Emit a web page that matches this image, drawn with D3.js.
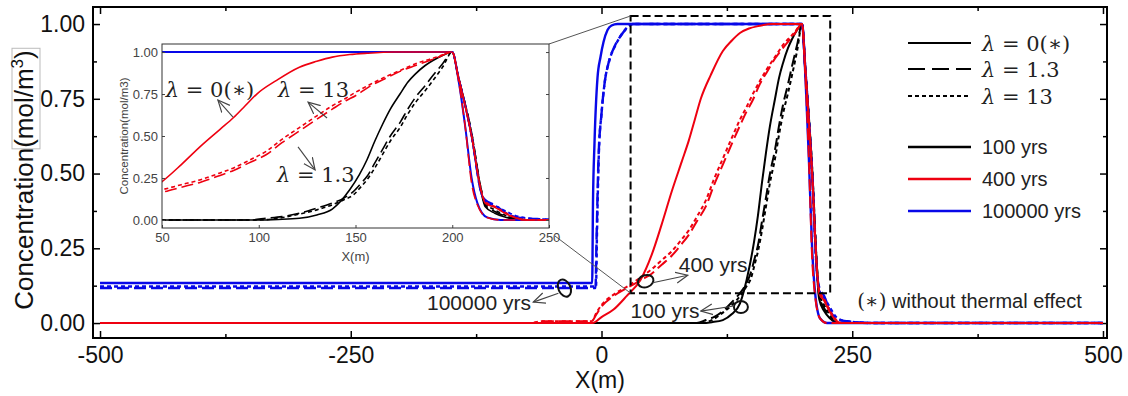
<!DOCTYPE html>
<html>
<head>
<meta charset="utf-8">
<script src="https://cdn.jsdelivr.net/npm/d3@7"></script>
<style>
  body { margin: 0; background: #fff; }
  svg { display: block; font-family: "Liberation Sans", Arial, sans-serif; }
</style>
</head>
<body>
<svg id="chart" width="1128" height="396"></svg>
<script>
'use strict';

// tick values
const xTicks = [-500, -250, 0, 250, 500],
    xMinor = [-375, -125, 125, 375],
    yTicks = [0, 0.25, 0.5, 0.75, 1],
    yMinor = [0.125, 0.375, 0.625, 0.875],
    insetXTicks = [50, 100, 150, 200, 250],
    insetYTicks = [0, 0.25, 0.5, 0.75, 1];

const lambdaLabels = ["0(\u2217)", "1.3", "13"];
const yearLabels = ["100 yrs", "400 yrs", "100000 yrs"];

// concentration profiles, [x (m), c (mol/m3)]
// 100 yrs
const black_l0 = [[-500,0],[100,0],[110,0.003],[121,0.01],[130,0.03],[138,0.065],[147,0.18],[152,0.27],[156,0.36],[160,0.47],[164,0.57],[168,0.66],[173,0.75],[177,0.82],[181,0.87],[186,0.92],[190,0.95],[195,0.98],[200,1],[203,0.86],[210,0.5],[215,0.16],[217,0.08],[222,0.04],[228,0.015],[235,0],[500,0]];
const black_l13 = [[-500,0],[95,0],[104,0.01],[112,0.02],[121,0.04],[130,0.07],[138,0.1],[144,0.13],[149,0.17],[153,0.22],[156,0.26],[160,0.34],[164,0.42],[168,0.5],[173,0.58],[177,0.66],[181,0.73],[186,0.8],[190,0.86],[195,0.93],[200,1],[203,0.86],[210,0.52],[215,0.18],[217,0.09],[222,0.05],[228,0.02],[236,0],[500,0]];
const black_l130 = [[-500,0],[100,0],[110,0.01],[121,0.035],[130,0.06],[138,0.09],[144,0.12],[149,0.15],[153,0.2],[156,0.24],[160,0.31],[164,0.39],[168,0.47],[173,0.55],[177,0.63],[181,0.7],[186,0.77],[190,0.83],[195,0.91],[200,1],[203,0.86],[210,0.52],[215,0.18],[217,0.1],[222,0.06],[228,0.025],[237,0],[500,0]];
// 400 yrs
const red_l0 = [[-500,0],[-9,0],[0,0.02],[12,0.045],[25,0.09],[39,0.145],[50,0.228],[60,0.33],[70,0.44],[80,0.54],[87,0.61],[93,0.68],[99,0.75],[109,0.83],[121,0.91],[130,0.945],[138,0.97],[147,0.985],[156,0.993],[170,1],[200,1],[203,0.86],[210,0.5],[215,0.17],[217,0.1],[222,0.075],[228,0.035],[234,0.008],[240,0],[500,0]];
const red_l13 = [[-500,0],[-70,0],[-60,0.006],[-10,0.006],[-5,0.03],[0,0.055],[12,0.09],[27,0.12],[40,0.145],[50,0.165],[60,0.195],[70,0.225],[80,0.265],[87,0.295],[95,0.34],[104,0.39],[112,0.46],[121,0.53],[130,0.6],[138,0.66],[145,0.71],[150,0.74],[158,0.8],[165,0.84],[173,0.885],[181,0.92],[192,0.965],[200,1],[203.4,0.82],[206.7,0.556],[210,0.22],[213,0.09],[218,0.015],[225,0],[500,0]];
const red_l130 = [[-500,0],[-70,0],[-60,0.006],[-10,0.006],[-5,0.035],[0,0.06],[12,0.095],[27,0.125],[40,0.155],[50,0.18],[60,0.21],[70,0.24],[80,0.28],[87,0.31],[95,0.355],[104,0.41],[112,0.48],[121,0.55],[130,0.62],[138,0.68],[145,0.725],[150,0.76],[158,0.81],[165,0.85],[173,0.89],[181,0.93],[192,0.97],[200,1],[203,0.86],[210,0.5],[215,0.17],[217,0.11],[222,0.08],[228,0.04],[234,0.01],[240,0],[500,0]];
// 100000 yrs
const blue_l0 = [[-500,0.134],[-9.3,0.134],[-8.5,0.4],[-7,0.6],[-4,0.82],[-1,0.89],[2,0.94],[6,0.98],[10,0.995],[16,1],[200,1],[203.4,0.82],[206.7,0.556],[210,0.25],[213,0.1],[218,0.015],[225,0],[500,0]];
const blue_l13 = [[-500,0.117],[-6,0.117],[-5,0.27],[-3,0.55],[0,0.7],[3,0.8],[7,0.87],[13,0.925],[19,0.96],[25,0.985],[31,1],[200,1],[203,0.86],[210,0.5],[215,0.16],[217,0.12],[222,0.09],[228,0.04],[234,0.015],[245,0.006],[270,0],[500,0]];
const blue_l130 = [[-500,0.122],[-5.5,0.122],[-4.5,0.3],[-2.5,0.58],[0,0.7],[3,0.8],[8,0.88],[14,0.93],[20,0.965],[26,0.99],[32,1],[200,1],[203,0.86],[210,0.5],[215,0.16],[217,0.11],[222,0.085],[228,0.05],[234,0.02],[245,0.005],[275,0],[500,0]];

const colors = ["#000", "#ee0010", "#0808e8"];
const dashes = [null, "12,5", "4,3"];

// draw order: black, blue, red
const series = [
  { data: black_l0, c: 0, d: 0 }, { data: black_l13, c: 0, d: 1 }, { data: black_l130, c: 0, d: 2 },
  { data: blue_l0, c: 2, d: 0 }, { data: blue_l13, c: 2, d: 1 }, { data: blue_l130, c: 2, d: 2 },
  { data: red_l0, c: 1, d: 0 }, { data: red_l13, c: 1, d: 1 }, { data: red_l130, c: 1, d: 2 },
];

const svg = d3.select("#chart");
const defs = svg.append("defs");

defs.append("marker")
  .attr("id", "arrow")
  .attr("viewBox", "0 0 12 12")
  .attr("refX", 11).attr("refY", 6)
  .attr("markerWidth", 13).attr("markerHeight", 13)
  .attr("markerUnits", "userSpaceOnUse")
  .attr("orient", "auto")
  .append("path")
  .attr("d", "M0,1 L11,6 L0,11")
  .attr("fill", "none")
  .attr("stroke", "#444")
  .attr("stroke-width", 1.1);

// plain hyphen for negatives, like the original
const fmtInt = d => String(d);

// main scales
const x = d3.scaleLinear().domain([-507, 504]).range([93, 1107]);
const y = d3.scaleLinear().domain([-0.05, 1.057]).range([338, 7]);

function addAxis(g, axis) {
  g.call(axis);
  g.select(".domain").remove();
  g.selectAll(".tick line").attr("stroke", "#000").attr("stroke-width", 1.5);
  return g;
}

const main = svg.append("g");
const [x0, x1] = x.range(), [y0, y1] = y.range();

// ticks, all pointing inwards
addAxis(main.append("g").attr("transform", `translate(0,${y0})`),
  d3.axisBottom(x).tickValues(xTicks).tickSize(-7).tickPadding(9).tickFormat(fmtInt))
  .selectAll("text").attr("font-size", 23).attr("fill", "#111");
addAxis(main.append("g").attr("transform", `translate(0,${y0})`),
  d3.axisBottom(x).tickValues(xMinor).tickSize(-4).tickFormat(""));
addAxis(main.append("g").attr("transform", `translate(0,${y1})`),
  d3.axisTop(x).tickValues(xTicks).tickSize(-7).tickFormat(""));
addAxis(main.append("g").attr("transform", `translate(0,${y1})`),
  d3.axisTop(x).tickValues(xMinor).tickSize(-4).tickFormat(""));
addAxis(main.append("g").attr("transform", `translate(${x0},0)`),
  d3.axisLeft(y).tickValues(yTicks).tickSize(-7).tickPadding(8).tickFormat(d3.format(".2f")))
  .selectAll("text").attr("font-size", 23).attr("fill", "#111");
addAxis(main.append("g").attr("transform", `translate(${x0},0)`),
  d3.axisLeft(y).tickValues(yMinor).tickSize(-4).tickFormat(""));
addAxis(main.append("g").attr("transform", `translate(${x1},0)`),
  d3.axisRight(y).tickValues(yTicks).tickSize(-7).tickFormat(""));
addAxis(main.append("g").attr("transform", `translate(${x1},0)`),
  d3.axisRight(y).tickValues(yMinor).tickSize(-4).tickFormat(""));

main.append("rect")
  .attr("x", x0).attr("y", y1)
  .attr("width", x1 - x0).attr("height", y0 - y1)
  .attr("fill", "none").attr("stroke", "#000").attr("stroke-width", 2);

// axis titles
main.append("text")
  .attr("x", (x0 + x1) / 2).attr("y", 388)
  .attr("text-anchor", "middle").attr("font-size", 23).attr("fill", "#111")
  .text("X(m)");

const ylab = main.append("g").attr("transform", "translate(33,180) rotate(-90)");
const ytxt = ylab.append("text")
  .attr("text-anchor", "middle").attr("font-size", 26).attr("fill", "#111");
ytxt.append("tspan").text("Concentration(mol/m");
ytxt.append("tspan").attr("font-size", 17).attr("dy", -10).text("3");
ytxt.append("tspan").attr("dy", 10).text(")");
{
  const total = ytxt.node().getComputedTextLength();
  const start = ytxt.node().getSubStringLength(0, 13);
  ylab.insert("rect", "text")
    .attr("x", -total / 2 + start - 1).attr("y", -21)
    .attr("width", total - start + 3).attr("height", 28)
    .attr("fill", "none").attr("stroke", "#bbb").attr("stroke-width", 1);
}

// curves
function drawCurves(g, sx, sy, width) {
  const line = d3.line()
    .x(d => sx(d[0])).y(d => sy(d[1]))
    .curve(d3.curveMonotoneX);
  g.selectAll("path.curve").data(series).enter()
    .append("path")
    .attr("class", "curve")
    .attr("d", s => line(s.data))
    .attr("fill", "none")
    .attr("stroke", s => colors[s.c])
    .attr("stroke-width", s => s.c === 2 ? width + 0.4 : width)
    .attr("stroke-dasharray", s => dashes[s.d]);
}
drawCurves(main.append("g"), x, y, 2);

// zoom box + connectors
const zoomBox = { x0: 29, x1: 228, y0: 0.1, y1: 1.027 };
main.append("rect")
  .attr("x", x(zoomBox.x0)).attr("y", y(zoomBox.y1))
  .attr("width", x(zoomBox.x1) - x(zoomBox.x0))
  .attr("height", y(zoomBox.y0) - y(zoomBox.y1))
  .attr("fill", "none").attr("stroke", "#000")
  .attr("stroke-width", 2).attr("stroke-dasharray", "8,4");

// inset
const ix = d3.scaleLinear().domain([50, 250]).range([162, 549]);
const iy = d3.scaleLinear().domain([-0.048, 1.048]).range([228, 44]);
const [ix0, ix1] = ix.range(), [iy0, iy1] = iy.range();

main.append("line")
  .attr("x1", ix1).attr("y1", iy1).attr("x2", x(zoomBox.x0)).attr("y2", y(zoomBox.y1))
  .attr("stroke", "#555").attr("stroke-width", 1);
main.append("line")
  .attr("x1", ix1 + 6).attr("y1", iy0 + 8).attr("x2", x(zoomBox.x0)).attr("y2", y(zoomBox.y0))
  .attr("stroke", "#555").attr("stroke-width", 1);

const inset = svg.append("g");
inset.append("rect")
  .attr("x", ix0).attr("y", iy1).attr("width", ix1 - ix0).attr("height", iy0 - iy1)
  .attr("fill", "#fff");

defs.append("clipPath").attr("id", "insetClip")
  .append("rect")
  .attr("x", ix0).attr("y", iy1).attr("width", ix1 - ix0).attr("height", iy0 - iy1);
drawCurves(inset.append("g").attr("clip-path", "url(#insetClip)"), ix, iy, 1.6);

function insetAxis(g, axis) {
  g.call(axis);
  g.select(".domain").remove();
  g.selectAll(".tick line").attr("stroke", "#444").attr("stroke-width", 1);
  g.selectAll("text").attr("font-size", 13).attr("fill", "#444");
  return g;
}
insetAxis(inset.append("g").attr("transform", `translate(0,${iy0})`),
  d3.axisBottom(ix).tickValues(insetXTicks).tickSize(-3).tickPadding(5).tickFormat(fmtInt));
insetAxis(inset.append("g").attr("transform", `translate(${ix0},0)`),
  d3.axisLeft(iy).tickValues(insetYTicks).tickSize(-3).tickPadding(4).tickFormat(d3.format(".2f")));
insetAxis(inset.append("g").attr("transform", `translate(${ix1},0)`),
  d3.axisRight(iy).tickValues(insetYTicks).tickSize(-3).tickFormat(""));

inset.append("rect")
  .attr("x", ix0).attr("y", iy1).attr("width", ix1 - ix0).attr("height", iy0 - iy1)
  .attr("fill", "none").attr("stroke", "#333").attr("stroke-width", 1);

inset.append("text")
  .attr("x", (ix0 + ix1) / 2).attr("y", 261)
  .attr("text-anchor", "middle").attr("font-size", 13).attr("fill", "#444")
  .text("X(m)");
inset.append("text")
  .attr("transform", `translate(128,${(iy0 + iy1) / 2}) rotate(-90)`)
  .attr("text-anchor", "middle").attr("font-size", 11.5).attr("fill", "#444")
  .text("Concentration(mol/m3)");

// lambda labels inside the inset, in inset data coords
const insetNotes = [
  { label: lambdaLabels[0], at: [52, 0.73], from: [86.7, 0.613], to: [78.9, 0.714] },
  { label: lambdaLabels[2], at: [110, 0.73], from: [135.3, 0.607], to: [125.5, 0.702] },
  { label: lambdaLabels[1], at: [109.4, 0.226], from: [120.3, 0.435], to: [129.1, 0.298] },
];

function lambdaText(sel, label) {
  sel.attr("font-family", "'DejaVu Serif', 'Liberation Serif', serif").attr("fill", "#222");
  sel.append("tspan").attr("font-style", "italic").text("\u03bb");
  sel.append("tspan").text(" = " + label);
}

insetNotes.forEach(n => {
  inset.append("text")
    .attr("x", ix(n.at[0])).attr("y", iy(n.at[1]))
    .attr("font-size", 21)
    .call(lambdaText, n.label);
  inset.append("line")
    .attr("x1", ix(n.from[0])).attr("y1", iy(n.from[1]))
    .attr("x2", ix(n.to[0])).attr("y2", iy(n.to[1]))
    .attr("stroke", "#444").attr("stroke-width", 1.1)
    .attr("marker-end", "url(#arrow)");
});

// time annotations in the main plot, main data coords
const mainNotes = [
  { label: yearLabels[1], at: [77, 0.17], ring: [44, 0.14, 8, 6, -20], from: [51, 0.135], to: [86, 0.16] },
  { label: yearLabels[0], at: [29, 0.017], ring: [139, 0.054, 7, 6, 0], from: [132, 0.057], to: [99, 0.04] },
  { label: yearLabels[2], at: [-174, 0.043], ring: [-37, 0.117, 6, 9, -25], from: [-43, 0.1], to: [-68, 0.07] },
];

mainNotes.forEach(n => {
  main.append("text")
    .attr("x", x(n.at[0])).attr("y", y(n.at[1]))
    .attr("font-size", 21).attr("fill", "#222")
    .text(n.label);
  main.append("ellipse")
    .attr("transform", `translate(${x(n.ring[0])},${y(n.ring[1])}) rotate(${n.ring[4]})`)
    .attr("rx", n.ring[2]).attr("ry", n.ring[3])
    .attr("fill", "none").attr("stroke", "#111").attr("stroke-width", 2);
  main.append("line")
    .attr("x1", x(n.from[0])).attr("y1", y(n.from[1]))
    .attr("x2", x(n.to[0])).attr("y2", y(n.to[1]))
    .attr("stroke", "#444").attr("stroke-width", 1.1)
    .attr("marker-end", "url(#arrow)");
});

const note = main.append("text")
  .attr("x", x(255)).attr("y", y(0.05))
  .attr("font-size", 20).attr("fill", "#222");
note.append("tspan").attr("font-family", "'DejaVu Serif', serif").text("(\u2217)");
note.append("tspan").text(" without thermal effect");

// legend
const legend = svg.append("g").attr("transform", "translate(908,0)");
const lamRows = [43, 69, 96], yearRows = [147, 179, 211];

lamRows.forEach((ry, i) => {
  legend.append("line")
    .attr("x1", 0).attr("x2", 63).attr("y1", ry).attr("y2", ry)
    .attr("stroke", "#000").attr("stroke-width", 2)
    .attr("stroke-dasharray", i === 1 ? "17,7" : dashes[i]);
  legend.append("text")
    .attr("x", 74).attr("y", ry + 8)
    .attr("font-size", 21)
    .call(lambdaText, lambdaLabels[i]);
});

yearRows.forEach((ry, i) => {
  legend.append("line")
    .attr("x1", 0).attr("x2", 63).attr("y1", ry).attr("y2", ry)
    .attr("stroke", colors[i]).attr("stroke-width", 2.5);
  legend.append("text")
    .attr("x", 74).attr("y", ry + 7)
    .attr("font-size", 20).attr("fill", "#222")
    .text(yearLabels[i]);
});
</script>
</body>
</html>
